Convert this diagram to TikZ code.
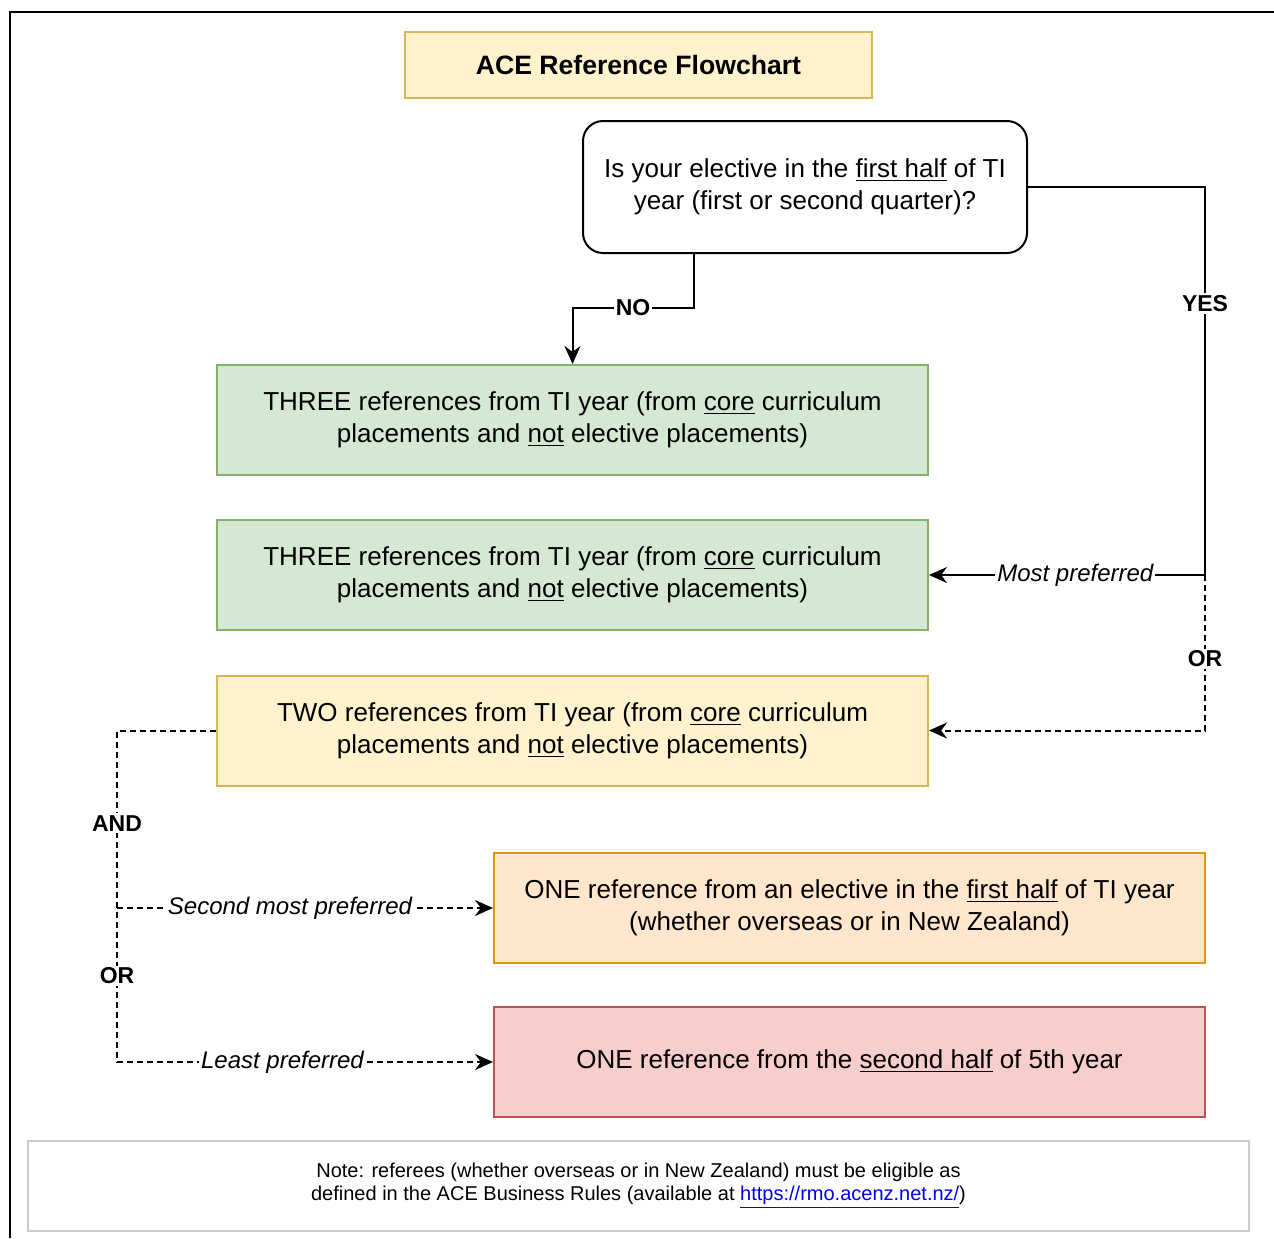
\documentclass[tikz,border=0pt]{standalone}
\usepackage{fontspec}
\setmainfont{Liberation Sans}
\usepackage{xcolor}
\usetikzlibrary{positioning, calc, arrows.meta}

\definecolor{titlefill}{HTML}{FFF2CC}
\definecolor{titleline}{HTML}{D6B656}
\definecolor{greenfill}{HTML}{D5E8D4}
\definecolor{greenline}{HTML}{82B366}
\definecolor{orangefill}{HTML}{FFE6CC}
\definecolor{orangeline}{HTML}{D79B00}
\definecolor{redfill}{HTML}{F8CECC}
\definecolor{redline}{HTML}{B85450}
\definecolor{noteline}{HTML}{CCCCCC}
\definecolor{linkblue}{HTML}{0000EE}

\tikzset{
  box/.style={draw, line width=1pt, minimum width=355.5pt, minimum height=55pt,
    align=center, inner sep=0pt, font=\fontsize{13}{16}\selectfont},
  greenbox/.style={box, fill=greenfill, draw=greenline},
  yellowbox/.style={box, fill=titlefill, draw=titleline},
  orangebox/.style={box, fill=orangefill, draw=orangeline},
  redbox/.style={box, fill=redfill, draw=redline},
  lbl/.style={fill=white, inner sep=1pt, font=\bfseries\fontsize{11.5}{13}\selectfont},
  pref/.style={fill=white, inner sep=1pt, font=\itshape\fontsize{12}{14}\selectfont},
  arr/.style={-{Stealth[length=9pt,width=8pt]}, line width=1pt},
  dashline/.style={line width=1pt, dash pattern=on 3pt off 2pt},
}

\begin{document}
\begin{tikzpicture}[x=0.5pt, y=-0.5pt]
  \useasboundingbox (0,0) rectangle (1274,1238);
  \draw[line width=1.2pt] (10,1238) -- (10,12) -- (1274,12);%frame

  \node[yellowbox, minimum width=233.5pt, minimum height=33pt,
    font=\bfseries\fontsize{13.3}{16}\selectfont] (title) at (638.5,65) {ACE Reference Flowchart};
  \node[box, fill=white, draw=black, rounded corners=10pt, minimum width=222pt,
    minimum height=66pt] (q) at (805,187)
    {Is your elective in the \underline{first half} of TI\\year (first or second quarter)?};

  \node[greenbox] (three1) at (572.5,420)
    {THREE references from TI year (from \underline{core} curriculum\\placements and \underline{not} elective placements)};
  \node[greenbox] (three2) at (572.5,575)
    {THREE references from TI year (from \underline{core} curriculum\\placements and \underline{not} elective placements)};
  \node[yellowbox] (two) at (572.5,730.5)
    {TWO references from TI year (from \underline{core} curriculum\\placements and \underline{not} elective placements)};
  \node[orangebox] (one1) at (849.5,908)
    {ONE reference from an elective in the \underline{first half} of TI year\\(whether overseas or in New Zealand)};
  \node[redbox] (one2) at (849.5,1062)
    {ONE reference from the \underline{second half} of 5th year};

  \node[draw=noteline, line width=1pt, minimum width=610.5pt, minimum height=45pt,
    align=center, font=\fontsize{10}{11.5}\selectfont] (note) at (638.5,1186)
    {Note: referees (whether overseas or in New Zealand) must be eligible as\\
     defined in the ACE Business Rules (available at \textcolor{linkblue}{\underline{https://rmo.acenz.net.nz/}})};

  % NO
  \coordinate (qs) at ($(q.south west)!0.25!(q.south east)$);
  \coordinate (nobend) at (572.5,308);
  \draw[arr] (qs) |- node[lbl, pos=0.75]{NO} (nobend) -- (three1.north);
  % YES
  \coordinate (yc) at (1205,575);
  \draw[arr] (q.east) -| node[lbl, pos=0.65]{YES} (yc)
    -- node[pref, pos=0.47]{Most preferred} (three2.east);
  \draw[arr, dashline] (yc) |- node[lbl, pos=0.27]{OR} (two.east);
  % left branch
  \coordinate (lend) at (117,1062);
  \draw[dashline] (two.west) -| node[lbl, pos=0.64]{AND} node[lbl, pos=0.87]{OR} (lend);
  \draw[arr, dashline] (lend |- one1.west) -- node[pref, pos=0.46]{Second most preferred} (one1.west);
  \draw[arr, dashline] (lend) -- node[pref, pos=0.44]{Least preferred} (one2.west);
\end{tikzpicture}
\end{document}
